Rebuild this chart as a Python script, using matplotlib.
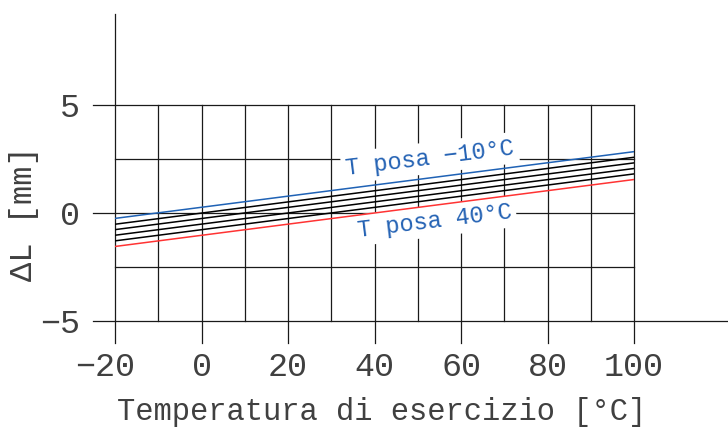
import matplotlib
matplotlib.use("Agg")
from matplotlib import pyplot as plt
from matplotlib.transforms import ScaledTranslation
import numpy as np

plt.rcParams['font.family'] = ['Liberation Mono', 'DejaVu Sans Mono']

# operating temperature range and resulting elongation for each laying temperature
t_range = [-20, 100]
t_posa = [-10, 0, 10, 20, 30, 40]
dl_lines = [
    [-0.25, 2.84],   # T posa -10
    [-0.52, 2.58],   # T posa 0
    [-0.77, 2.32],   # T posa 10
    [-1.03, 2.06],   # T posa 20
    [-1.29, 1.81],   # T posa 30
    [-1.55, 1.55],   # T posa 40
]
line_colors = ['#1f62b5', 'black', 'black', 'black', 'black', '#ff3333']

x_ticks = [-20, 0, 20, 40, 60, 80, 100]
x_tick_labels = ['−20', '0', '20', '40', '60', '80', '100']
y_ticks = [-5, 0, 5]
y_tick_labels = ['−5', '0', '5']
x_grid = np.arange(-20, 101, 10)
y_grid = [-5, -2.5, 0, 2.5, 5]

grid_c = '#1a1a1a'
txt_c = '#404040'
blue = '#2462b4'
lw_grid = 0.9

fig = plt.figure(figsize=(7.28, 4.30), dpi=100)
ax = fig.add_axes([115/728, (430-321)/430, (634-115)/728, (321-105)/430])
ax.set_xlim(-20, 100)
ax.set_ylim(-5, 5)
for s in ax.spines.values():
    s.set_visible(False)

# tick stubs hang 22 px outside the frame
xt_len = 22 / 21.6
yt_len = 22 / 4.325

# vertical grid lines, major ones run down into a tick
for x in x_grid:
    y0 = -5 - xt_len if x in x_ticks else -5
    y1 = 9.2 if x == -20 else 5
    ax.plot([x, x], [y0, y1], color=grid_c, lw=lw_grid, clip_on=False, zorder=1)
# horizontal grid lines, major ones run left into a tick
for y in y_grid:
    x0 = -20 - yt_len if y in y_ticks else -20
    x1 = 121.7 if y == -5 else 100
    ax.plot([x0, x1], [y, y], color=grid_c, lw=lw_grid, clip_on=False, zorder=1)

ax.set_xticks(x_ticks)
ax.set_xticklabels(x_tick_labels)
ax.set_yticks(y_ticks)
ax.set_yticklabels(y_tick_labels)
ax.tick_params(axis='x', length=16, width=0, pad=6, labelsize=24, labelcolor=txt_c)
ax.tick_params(axis='y', length=16, width=0, pad=9, labelsize=24, labelcolor=txt_c)
# minus sign hangs to the left of the digits
for lab in ax.get_xticklabels():
    if lab.get_text().startswith('−'):
        lab.set_transform(lab.get_transform() + ScaledTranslation(-0.1, 0, fig.dpi_scale_trans))

for vals, c in zip(dl_lines, line_colors):
    ax.plot(t_range, vals, color=c, lw=1.1, zorder=3)

bbox = dict(facecolor='white', edgecolor='none', pad=3)
ax.text(52.8, 2.55, 'T posa −10°C', rotation=7, rotation_mode='anchor',
        ha='center', va='center', color=blue, fontsize=17,
        bbox=bbox, zorder=2)
ax.text(53.9, -0.37, 'T posa 40°C', rotation=7, rotation_mode='anchor',
        ha='center', va='center', color=blue, fontsize=17,
        bbox=bbox, zorder=2)

ax.set_xlabel('Temperatura di esercizio [°C]', fontsize=22, color=txt_c, va='baseline')
ax.xaxis.set_label_coords(0.514, (321 - 420) / 216)
ax.set_ylabel('ΔL [mm]', fontsize=23, color=txt_c, va='center', ha='center')
ax.yaxis.set_label_coords(-0.175, 0.495)

fig.savefig('out.png', dpi=100)
